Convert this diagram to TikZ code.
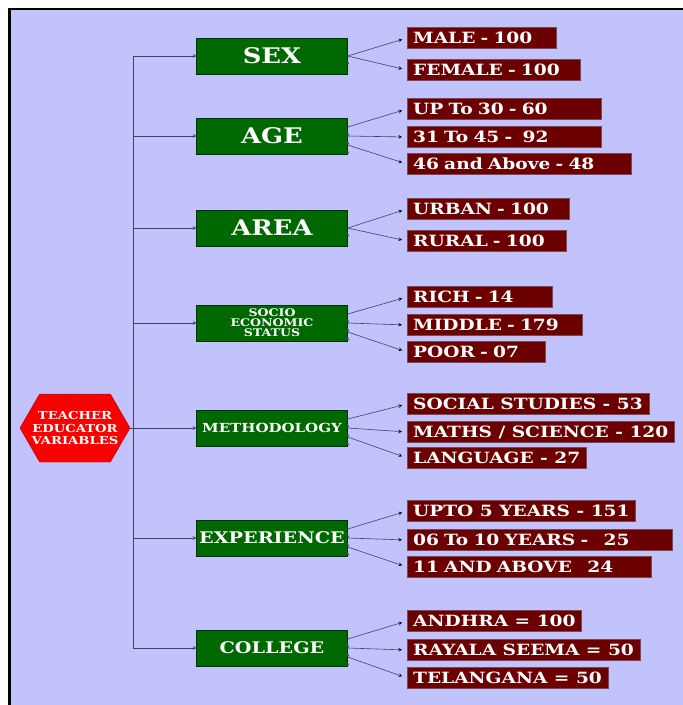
\documentclass[tikz,border=0pt]{standalone}
\usepackage{fontspec}
\setmainfont[FakeStretch=1.2]{DejaVu Serif}
\usetikzlibrary{shapes.symbols,positioning}

\definecolor{lavender}{RGB}{194,194,252}
\definecolor{factorgreen}{RGB}{0,104,0}
\definecolor{levelred}{RGB}{108,0,0}
\definecolor{rootred}{RGB}{250,0,0}
\definecolor{linkgray}{RGB}{66,66,104}

\begin{document}
\begin{tikzpicture}[%
       x=1pt, y=-1pt,
       >=stealth,
       font=\bfseries,
       root/.style={signal, signal to=east and west, signal pointer angle=120,
                    draw=red!70!black, fill=rootred, text=white, align=center,
                    minimum width=110pt, minimum height=68pt, inner ysep=0pt, inner xsep=-12pt,
                    font=\bfseries\fontsize{11}{12.5}\selectfont},
       factor/.style={draw=black!50!factorgreen, fill=factorgreen, text=white,
                      minimum width=151pt, minimum height=36pt, inner sep=1pt, align=center},
       big/.style={font=\bfseries\fontsize{21.5}{22}\selectfont},
       mid/.style={font=\bfseries\fontsize{16}{16}\selectfont},
       small/.style={font=\bfseries\fontsize{12.5}{13}\selectfont},
       tiny/.style={font=\bfseries\fontsize{10.5}{10}\selectfont},
       level/.style={draw=gray!60!levelred, fill=levelred, text=white, anchor=west,
                     minimum height=21pt, inner xsep=6pt, inner ysep=0pt,
                     font=\bfseries\fontsize{15.5}{15.5}\selectfont},
       link/.style={->, draw=linkgray, semithick, shorten >=5pt}
     ]
     \useasboundingbox (0,0) rectangle (683,705);
     \fill[lavender] (10,9) rectangle (683,705);
     \draw[line width=2.5pt] (9.5,705) -- (9.5,9) -- (683,9);

     % root and factors
     \node[root]                 (teacher)  at (75,428)  {TEACHER\\EDUCATOR\\VARIABLES};
     \node[factor,big]           (sex)      at (272,56)  {SEX};
     \node[factor,big]           (age)      at (272,136) {AGE};
     \node[factor,big]           (area)     at (272,228) {AREA};
     \node[factor,tiny]          (socio)    at (272,323) {SOCIO\\ECONOMIC\\STATUS};
     \node[factor,small]         (method)   at (272,428) {METHODOLOGY};
     \node[factor,mid]           (exp)      at (272,538) {EXPERIENCE};
     \node[factor,mid]           (college)  at (272,648) {COLLEGE};

     \coordinate (spine top)    at (133,56);
     \coordinate (spine bottom) at (133,648);

     % levels
     \node[level, text width=137pt] (male)      at (407,38)  {MALE - 100};
     \node[level, text width=161pt] (female)    at (407,70)  {FEMALE - 100};
     \node[level, text width=182pt] (upto30)    at (407,109) {UP To 30 - 60};
     \node[level, text width=182pt] (to45)      at (407,137) {31 To 45 -\ \ 92};
     \node[level, text width=212pt] (above46)   at (407,164) {46 and Above - 48};
     \node[level, text width=150pt] (urban)     at (407,209) {URBAN - 100};
     \node[level, text width=147pt] (rural)     at (407,241) {RURAL - 100};
     \node[level, text width=133pt] (rich)      at (407,297) {RICH - 14};
     \node[level, text width=163pt] (middle)    at (407,325) {MIDDLE - 179};
     \node[level, text width=126pt] (poor)      at (407,352) {POOR - 07};
     \node[level]                   (social)    at (407,404) {SOCIAL STUDIES - 53};
     \node[level]                   (maths)     at (407,432) {MATHS / SCIENCE - 120};
     \node[level]                   (language)  at (407,458) {LANGUAGE - 27};
     \node[level]                   (upto5)     at (407,511) {UPTO 5 YEARS - 151};
     \node[level, text width=253pt] (to10)      at (407,540) {06 To 10 YEARS -\ \ \ 25};
     \node[level, text width=232pt] (above11)   at (407,567) {11 AND ABOVE\ \ \ 24};
     \node[level]                   (andhra)    at (407,621) {ANDHRA = 100};
     \node[level]                   (rayala)    at (407,650) {RAYALA SEEMA = 50};
     \node[level]                   (telangana) at (407,678) {TELANGANA = 50};

     % spine
     \draw[linkgray, semithick] (spine top) -- (spine bottom);
     \foreach \f in {sex,age,area,socio,exp,college}
       \draw[link, shorten >=0pt] (\f -| spine top) -- (\f.west);
     \draw[link, shorten >=0pt] (teacher.east) -- (method.west);

     % branches
     \path[link] (sex.east)  edge (male.west)  edge (female.west);
     \path[link] (area.east) edge (urban.west) edge (rural.west);
     \path[link] ([yshift=9pt]age.east)      edge (upto30.west);
     \path[link] (age.east)                  edge (to45.west);
     \path[link] ([yshift=-9pt]age.east)     edge (above46.west);
     \path[link] ([yshift=9pt]socio.east)    edge (rich.west);
     \path[link] (socio.east)                edge (middle.west);
     \path[link] ([yshift=-9pt]socio.east)   edge (poor.west);
     \path[link] ([yshift=9pt]method.east)   edge (social.west);
     \path[link] (method.east)               edge (maths.west);
     \path[link] ([yshift=-9pt]method.east)  edge (language.west);
     \path[link] ([yshift=9pt]exp.east)      edge (upto5.west);
     \path[link] (exp.east)                  edge (to10.west);
     \path[link] ([yshift=-9pt]exp.east)     edge (above11.west);
     \path[link] ([yshift=9pt]college.east)  edge (andhra.west);
     \path[link] (college.east)              edge (rayala.west);
     \path[link] ([yshift=-9pt]college.east) edge (telangana.west);
\end{tikzpicture}
\end{document}
